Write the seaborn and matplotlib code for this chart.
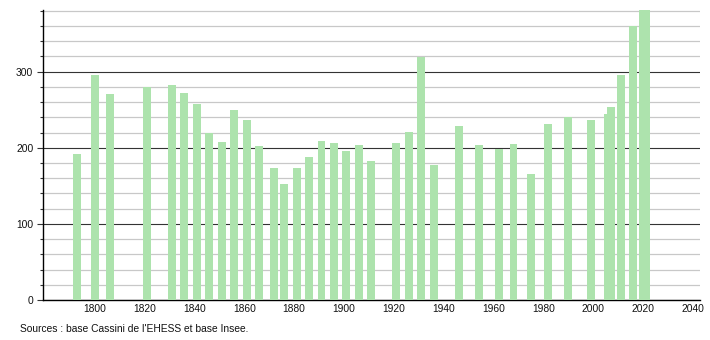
import matplotlib
matplotlib.use("Agg")
import matplotlib.pyplot as plt
import seaborn as sns
import numpy as np
from matplotlib.ticker import MultipleLocator

years = [1793, 1800, 1806, 1821, 1831, 1836, 1841, 1846, 1851, 1856,
         1861, 1866, 1872, 1876, 1881, 1886, 1891, 1896, 1901, 1906,
         1911, 1921, 1926, 1931, 1936, 1946, 1954, 1962, 1968, 1975,
         1982, 1990, 1999, 2006, 2007, 2011, 2016, 2020, 2021]
population = [192, 296, 270, 280, 283, 272, 257, 220, 208, 250,
              236, 202, 174, 153, 174, 188, 209, 206, 196, 203,
              182, 206, 221, 319, 178, 229, 204, 198, 205, 165,
              231, 241, 236, 245, 253, 296, 360, 381, 381]
x_ticks = [1800, 1820, 1840, 1860, 1880, 1900, 1920, 1940, 1960, 1980, 2000, 2020, 2040]
y_major = [0, 100, 200, 300]
source_text = "Sources : base Cassini de l'EHESS et base Insee."

sns.set_theme(style="white")
plt.rcParams['font.family'] = ['Liberation Sans', 'DejaVu Sans']

fig = plt.figure(figsize=(7.1, 3.4), dpi=100)
ax = fig.add_axes([43/710, 40/340, (700-43)/710, 290/340])

sns.barplot(x=years, y=population, native_scale=True, width=3.2,
            color="#ade3ad", saturation=1, ax=ax, edgecolor="none", zorder=3)

ax.set_xlim(1779.3, 2042.8)
ax.set_ylim(0, 381)
ax.set_xticks(x_ticks)
ax.set_xticklabels([str(t) for t in x_ticks])
ax.set_yticks(y_major)
ax.yaxis.set_minor_locator(MultipleLocator(20))

ax.grid(which="major", axis="y", color="#333333", linewidth=0.8, zorder=0)
ax.grid(which="minor", axis="y", color="#c8c8c8", linewidth=0.9, zorder=0)
ax.grid(which="major", axis="x", visible=False)
ax.set_axisbelow(True)

for s in ["top", "right"]:
    ax.spines[s].set_visible(False)
ax.spines["left"].set_color("black")
ax.spines["bottom"].set_color("black")
ax.spines["left"].set_linewidth(1.0)
ax.spines["bottom"].set_linewidth(1.0)

ax.tick_params(axis="y", which="major", length=4, width=0.8, color="#333333",
               labelsize=7.4, pad=3, left=True, labelcolor="#111111")
ax.tick_params(axis="y", which="minor", length=2, width=0.8, color="#333333", left=True)
ax.tick_params(axis="x", which="both", length=0, labelsize=7.4, pad=3, labelcolor="#111111")
ax.set_xlabel("")
ax.set_ylabel("")

fig.text(20/710, 1 - 329/340, source_text, fontsize=7.4, ha="left", va="center", color="#111111")

fig.savefig("out.png", dpi=100)
